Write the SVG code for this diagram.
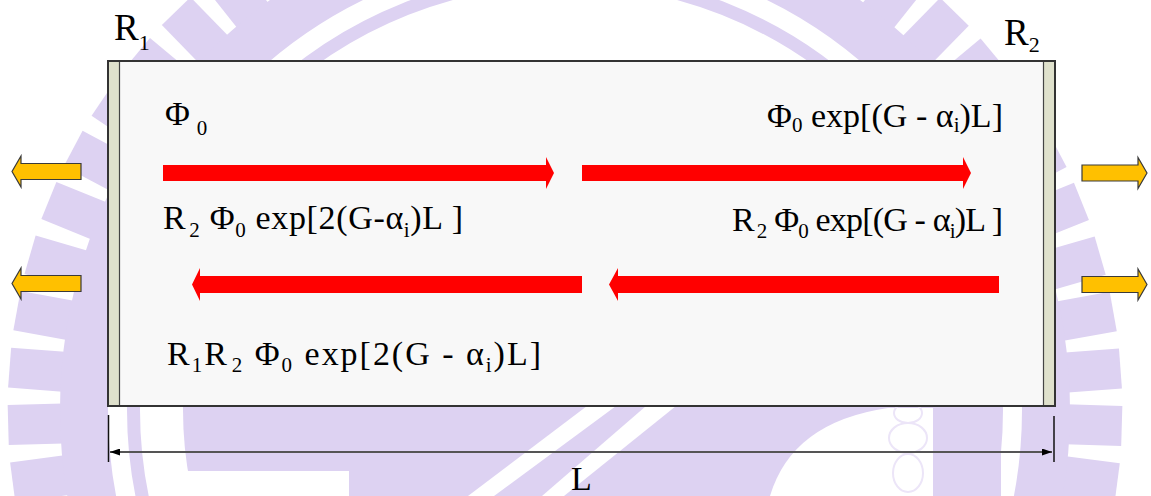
<svg xmlns="http://www.w3.org/2000/svg" width="1151" height="496" viewBox="0 0 1151 496">
<style>
.t{font-family:"Liberation Serif","Times New Roman","DejaVu Serif",serif;fill:#000;}
.m{font-size:34px;}
.s{font-size:21px;}
.red{fill:#ff0000;}
.yel{fill:#ffc000;stroke:#3a3a3a;stroke-width:1.2;}
.wm{fill:#ddd2f2;}
.mir{fill:#dfe1cc;}
</style>
<defs>
<rect id="tooth" x="545" y="-147" width="40" height="64"/>
<clipPath id="below"><rect x="0" y="406" width="1151" height="90"/></clipPath>
<marker id="ah" viewBox="0 0 10 7" refX="10" refY="3.5" markerWidth="10" markerHeight="7" markerUnits="userSpaceOnUse" orient="auto-start-reverse">
<path d="M0,0 L10,3.5 L0,7 z" fill="#000"/>
</marker>
</defs>
<rect width="1151" height="496" fill="#fff"/>
<g id="watermark">
<g class="wm">
<use href="#tooth" transform="rotate(-103.36 565 410)"/>
<use href="#tooth" transform="rotate(-97.45 565 410)"/>
<use href="#tooth" transform="rotate(-91.55 565 410)"/>
<use href="#tooth" transform="rotate(-85.64 565 410)"/>
<use href="#tooth" transform="rotate(-79.73 565 410)"/>
<use href="#tooth" transform="rotate(-73.82 565 410)"/>
<use href="#tooth" transform="rotate(-67.91 565 410)"/>
<use href="#tooth" transform="rotate(-62 565 410)"/>
<use href="#tooth" transform="rotate(-56.09 565 410)"/>
<use href="#tooth" transform="rotate(-50.18 565 410)"/>
<use href="#tooth" transform="rotate(-44.27 565 410)"/>
<use href="#tooth" transform="rotate(-38.36 565 410)"/>
<use href="#tooth" transform="rotate(38.45 565 410)"/>
<use href="#tooth" transform="rotate(44.36 565 410)"/>
<use href="#tooth" transform="rotate(50.27 565 410)"/>
<use href="#tooth" transform="rotate(56.18 565 410)"/>
<use href="#tooth" transform="rotate(62.09 565 410)"/>
<use href="#tooth" transform="rotate(68 565 410)"/>
<use href="#tooth" transform="rotate(73.91 565 410)"/>
<use href="#tooth" transform="rotate(79.82 565 410)"/>
<use href="#tooth" transform="rotate(85.73 565 410)"/>
<use href="#tooth" transform="rotate(91.64 565 410)"/>
<use href="#tooth" transform="rotate(97.55 565 410)"/>
<use href="#tooth" transform="rotate(103.45 565 410)"/>
</g>
<circle cx="565" cy="410" r="465" fill="none" stroke="#ddd2f2" stroke-width="80"/>
<circle cx="565" cy="410" r="447.5" fill="none" stroke="#fff" stroke-width="19"/>
<g clip-path="url(#below)">
<circle class="wm" cx="565" cy="410" r="382"/>
<rect class="wm" x="935" y="406" width="66" height="90"/>
<rect x="185" y="471" width="164" height="25" fill="#fff"/>
<polygon points="587,406 616,406 494,496 468,496" fill="#fff"/>
<polygon points="646,406 676,406 564,496 542,496" fill="#fff"/>
<path d="M888,408 Q792,422 770,496 L933,496 L933,408 Z" fill="#fff"/>
<g fill="none" stroke="#ece5f8" stroke-width="2">
<ellipse cx="908" cy="413" rx="14" ry="10"/>
<ellipse cx="908" cy="438" rx="19" ry="15"/>
<ellipse cx="908" cy="473" rx="15" ry="19"/>
</g>
</g>
</g>
<g id="cavity">
<rect x="108" y="61" width="947" height="345" fill="#f8f8f8" stroke="#333" stroke-width="2"/>
<rect class="mir" x="109" y="62" width="10" height="343"/>
<line x1="119.5" y1="62" x2="119.5" y2="405" stroke="#444" stroke-width="1.2"/>
<rect class="mir" x="1044" y="62" width="10" height="343"/>
<line x1="1043.5" y1="62" x2="1043.5" y2="405" stroke="#444" stroke-width="1.2"/>
</g>
<g id="label-R1"><text class="t" x="114" y="40" font-size="37">R<tspan font-size="22" dy="10">1</tspan></text></g>
<g id="label-R2"><text class="t" x="1004" y="45" font-size="37">R<tspan font-size="22" dy="7">2</tspan></text></g>
<g id="connectors">
<polygon class="red" points="163,165 546,165 546,157 554,173 546,189 546,181 163,181"/>
<polygon class="red" points="582,165 963,165 963,157 971,173 963,189 963,181 582,181"/>
<polygon class="red" points="999,276 618,276 618,268 609,284.5 618,301 618,293 999,293"/>
<polygon class="red" points="582,276 200,276 200,268 192,284.5 200,301 200,293 582,293"/>
<polygon class="yel" points="81,163.5 21,163.5 21,156 12,171.5 21,187 21,179.5 81,179.5"/>
<polygon class="yel" points="81,275.5 21,275.5 21,268 12,283.5 21,299 21,291.5 81,291.5"/>
<polygon class="yel" points="1082,165 1138,165 1138,157.5 1147,173 1138,188.5 1138,181 1082,181"/>
<polygon class="yel" points="1082,276.5 1138,276.5 1138,269 1147,284.5 1138,300 1138,292.5 1082,292.5"/>
<line x1="108.5" y1="415" x2="108.5" y2="462" stroke="#111" stroke-width="1.5"/>
<line x1="1054" y1="416" x2="1054" y2="462" stroke="#111" stroke-width="1.5"/>
<line x1="110" y1="452" x2="1052" y2="452" stroke="#555" stroke-width="2" marker-start="url(#ah)" marker-end="url(#ah)"/>
</g>
<g id="text-phi0"><text class="t m" x="165" y="125">Φ<tspan class="s" dx="7" dy="10">0</tspan></text></g>
<g id="text-phi0-exp"><text class="t m" x="767" y="127" textLength="236" lengthAdjust="spacing">Φ<tspan class="s" dy="5">0</tspan><tspan dy="-5"> exp[(G - α</tspan><tspan class="s" dy="5">i</tspan><tspan dy="-5">)L]</tspan></text></g>
<g id="text-r2-exp2"><text class="t m" x="163" y="229" textLength="300" lengthAdjust="spacing">R<tspan class="s" dx="3" dy="8">2</tspan><tspan dy="-8"> Φ</tspan><tspan class="s" dy="8">0</tspan><tspan dy="-8"> exp[2(G-α</tspan><tspan class="s" dy="8">i</tspan><tspan dy="-8">)L ]</tspan></text></g>
<g id="text-r2-exp"><text class="t m" x="732" y="231" textLength="271" lengthAdjust="spacing">R<tspan class="s" dx="3" dy="7">2</tspan><tspan dy="-7"> Φ</tspan><tspan class="s" dy="7">0</tspan><tspan dy="-7"> exp[(G - α</tspan><tspan class="s" dy="7">i</tspan><tspan dy="-7">)L ]</tspan></text></g>
<g id="text-r1r2"><text class="t m" x="167" y="365" textLength="374" lengthAdjust="spacing">R<tspan class="s" dy="7">1</tspan><tspan dy="-7">R</tspan><tspan class="s" dx="3" dy="7">2</tspan><tspan dy="-7"> Φ</tspan><tspan class="s" dy="7">0</tspan><tspan dy="-7"> exp[2(G - α</tspan><tspan class="s" dy="7">i</tspan><tspan dy="-7">)L]</tspan></text></g>
<g id="label-L"><text class="t" x="571" y="490" font-size="34">L</text></g>
</svg>
